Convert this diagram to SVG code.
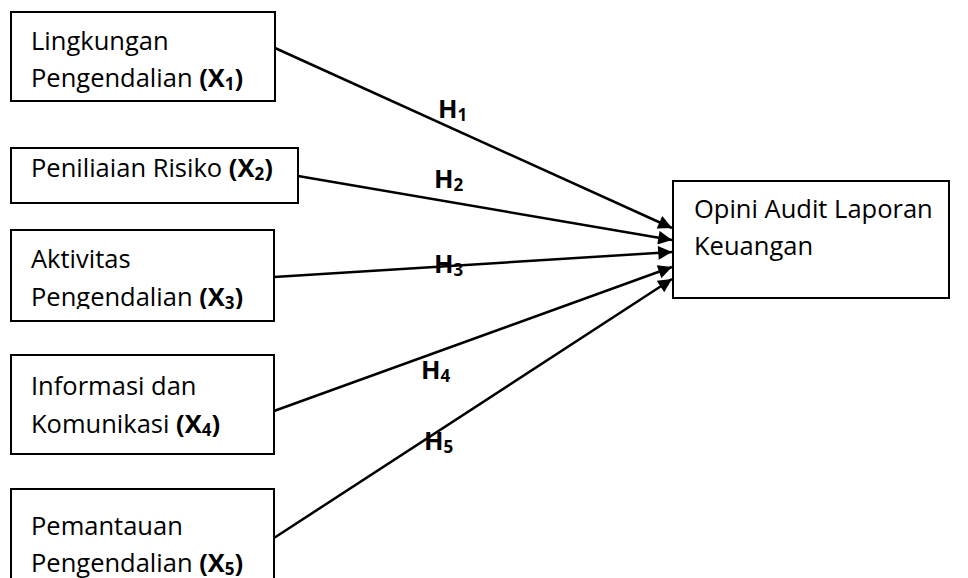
<svg xmlns="http://www.w3.org/2000/svg" width="968" height="578" viewBox="0 0 968 578">
<style>
.box{fill:#fff;stroke:#000;stroke-width:2}
.t{font-family:"Open Sans","Noto Sans",sans-serif;font-size:25.5px;fill:#000}
.b{font-weight:bold}
.s{font-size:17px}
.h{font-family:"Open Sans","Noto Sans",sans-serif;font-size:25.5px;font-weight:bold;fill:#000}
.c{stroke:#000;stroke-width:2.5;fill:none}
</style>
<defs>
<marker id="ah" viewBox="0 0 10 10" refX="10" refY="5" markerWidth="6.5" markerHeight="5.5" markerUnits="strokeWidth" orient="auto">
<path d="M0,0 L10,5 L0,10 Z" fill="#000"/>
</marker>
<clipPath id="c1"><rect x="12" y="13" width="262" height="80"/></clipPath>
<clipPath id="c3"><rect x="12" y="231" width="262" height="78"/></clipPath>
<clipPath id="c5"><rect x="12" y="490" width="262" height="88"/></clipPath>
</defs>
<g id="n1">
<rect class="box" x="11" y="12" width="264" height="89"/>
<g clip-path="url(#c1)">
<text class="t" x="31" y="50">Lingkungan</text>
<text class="t" x="31" y="87">Pengendalian <tspan class="b">(X<tspan class="s" dy="3">1</tspan><tspan dy="-3">)</tspan></tspan></text>
</g>
</g>
<g id="n2">
<rect class="box" x="11" y="148" width="287" height="55"/>
<text class="t" x="31" y="177">Peniliaian Risiko <tspan class="b">(X<tspan class="s" dy="3">2</tspan><tspan dy="-3">)</tspan></tspan></text>
</g>
<g id="n3">
<rect class="box" x="11" y="230" width="263" height="91"/>
<g clip-path="url(#c3)">
<text class="t" x="31" y="268">Aktivitas</text>
<text class="t" x="31" y="306">Pengendalian <tspan class="b">(X<tspan class="s" dy="3">3</tspan><tspan dy="-3">)</tspan></tspan></text>
</g>
</g>
<g id="n4">
<rect class="box" x="11" y="355" width="263" height="99"/>
<text class="t" x="31" y="395">Informasi dan</text>
<text class="t" x="31" y="433">Komunikasi <tspan class="b">(X<tspan class="s" dy="3">4</tspan><tspan dy="-3">)</tspan></tspan></text>
</g>
<g id="n5">
<rect class="box" x="11" y="489" width="263" height="100"/>
<g clip-path="url(#c5)">
<text class="t" x="31" y="535">Pemantauan</text>
<text class="t" x="31" y="572">Pengendalian <tspan class="b">(X<tspan class="s" dy="3">5</tspan><tspan dy="-3">)</tspan></tspan></text>
</g>
</g>
<g id="target">
<rect class="box" x="673" y="181" width="276" height="117"/>
<text class="t" x="694" y="218">Opini Audit Laporan</text>
<text class="t" x="694" y="255">Keuangan</text>
</g>
<g id="connectors">
<line class="c" x1="275" y1="48" x2="672" y2="228" marker-end="url(#ah)"/>
<line class="c" x1="298" y1="176" x2="672" y2="240" marker-end="url(#ah)"/>
<line class="c" x1="274" y1="277" x2="672" y2="252" marker-end="url(#ah)"/>
<line class="c" x1="274" y1="411" x2="672" y2="267" marker-end="url(#ah)"/>
<line class="c" x1="274" y1="538" x2="672" y2="279" marker-end="url(#ah)"/>
</g>
<g id="labels">
<text class="h" x="438" y="118">H<tspan class="s" dy="3">1</tspan></text>
<text class="h" x="434" y="188">H<tspan class="s" dy="3">2</tspan></text>
<text class="h" x="434" y="273">H<tspan class="s" dy="3">3</tspan></text>
<text class="h" x="421" y="379">H<tspan class="s" dy="3">4</tspan></text>
<text class="h" x="424" y="450">H<tspan class="s" dy="3">5</tspan></text>
</g>
</svg>
